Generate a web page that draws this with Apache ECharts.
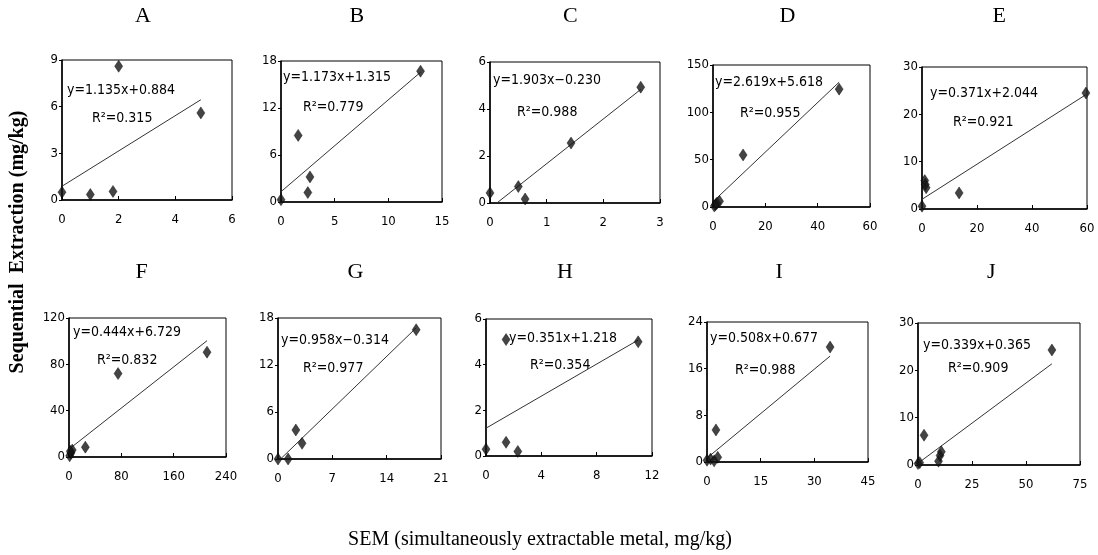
<!doctype html>
<html lang="en">
<head>
  <meta charset="utf-8">
  <title>SEM vs sequential extraction</title>
  <script src="https://cdn.jsdelivr.net/npm/echarts@6/dist/echarts.min.js"></script>
  <style>
    html, body { margin: 0; padding: 0; background: #fff; }
    #chart { width: 1098px; height: 555px; }
  </style>
</head>
<body>
  <div id="chart"></div>
  <script type="text/javascript">
    // panel letters
    const panels = ['A', 'B', 'C', 'D', 'E', 'F', 'G', 'H', 'I', 'J'];

    // SEM (x) and sequential extraction (y) values per panel
    const semA = [0, 1.0, 1.8, 2.0, 4.9];
    const seqA = [0.5, 0.35, 0.55, 8.6, 5.6];
    const semB = [0, 1.6, 2.7, 2.5, 13.0];
    const seqB = [0.3, 8.5, 3.2, 1.2, 16.7];
    const semC = [0, 0.5, 0.62, 1.43, 2.66];
    const seqC = [0.43, 0.7, 0.17, 2.55, 4.93];
    const semD = [0.5, 1.0, 1.5, 2.5, 11.5, 48.2];
    const seqD = [1, 2.5, 4, 6, 55, 124.5];
    const semE = [0, 1.0, 1.5, 1.2, 13.5, 59.6];
    const seqE = [0.6, 6.0, 4.5, 5.2, 3.4, 24.5];
    const semF = [1, 3, 5, 2, 25, 75, 211];
    const seqF = [1, 3.5, 6, 5, 8.5, 72, 90.5];
    const semG = [0, 1.3, 2.3, 3.1, 17.8];
    const seqG = [0, 0, 3.7, 2.0, 16.5];
    const semH = [0, 1.45, 1.45, 2.3, 11.0];
    const seqH = [0.3, 5.1, 0.6, 0.2, 5.0];
    const semI = [0, 1, 2, 3, 2.5, 34.4];
    const seqI = [0.3, 0.5, 0.2, 0.8, 5.5, 19.7];
    const semJ = [0, 0.8, 2.8, 9.5, 10.2, 10.8, 62];
    const seqJ = [0.3, 0.5, 6.3, 0.8, 2.0, 2.8, 24.3];

    // regression coefficients and the x span the fitted line covers
    const slopes = [1.135, 1.173, 1.903, 2.619, 0.371, 0.444, 0.958, 0.351, 0.508, 0.339];
    const intercepts = [0.884, 1.315, -0.230, 5.618, 2.044, 6.729, -0.314, 1.218, 0.677, 0.365];
    const lineFrom = [0, 0, 0.12, 0, 0, 0, 0.33, 0, 0, 0];
    const lineTo = [4.9, 13.0, 2.66, 48.2, 59.6, 211, 17.8, 11.0, 34.4, 62];
    const eqTexts = ['y=1.135x+0.884', 'y=1.173x+1.315', 'y=1.903x\u22120.230', 'y=2.619x+5.618', 'y=0.371x+2.044',
                     'y=0.444x+6.729', 'y=0.958x\u22120.314', 'y=0.351x+1.218', 'y=0.508x+0.677', 'y=0.339x+0.365'];
    const r2Texts = ['0.315', '0.779', '0.988', '0.955', '0.921', '0.832', '0.977', '0.354', '0.988', '0.909'];

    // axis ranges
    const xMax = [6, 15, 3, 60, 60, 240, 21, 12, 45, 75];
    const xStep = [2, 5, 1, 20, 20, 80, 7, 4, 15, 25];
    const yMax = [9, 18, 6, 150, 30, 120, 18, 6, 24, 30];
    const yStep = [3, 6, 2, 50, 10, 40, 6, 2, 8, 10];

    const semAll = [semA, semB, semC, semD, semE, semF, semG, semH, semI, semJ];
    const seqAll = [seqA, seqB, seqC, seqD, seqE, seqF, seqG, seqH, seqI, seqJ];

    // plot boxes: left, top, width, height
    const boxes = [
      [62, 60, 170, 140], [281, 61, 161, 141], [490, 62, 170, 141], [713, 65, 157, 142], [922, 67, 165, 142],
      [69, 318, 157, 139], [278, 318, 163, 141], [486, 319, 166, 137], [707, 322, 161, 140], [918, 323, 162, 142]
    ];
    // text anchors: equation (left, middle) and R2
    const eqPos = [[67, 90], [283, 77], [493, 80], [715, 82], [930, 93], [73, 332], [281, 340], [509, 338], [710, 338], [923, 345]];
    const r2Pos = [[92, 118], [303, 107], [517, 112], [740, 113], [953, 122], [97, 360], [303, 368], [530, 365], [735, 370], [948, 368]];

    const narrow = "'Liberation Sans Narrow', 'DejaVu Sans Condensed', 'Arial Narrow', sans-serif";
    const serif = "'Liberation Serif', 'DejaVu Serif', serif";

    const chart = echarts.init(document.getElementById('chart'));
    const grids = [], xAxes = [], yAxes = [], series = [], graphics = [];

    panels.forEach((p, i) => {
      const b = boxes[i];
      grids.push({
        left: b[0], top: b[1], width: b[2], height: b[3],
        show: true, borderColor: '#000', borderWidth: 1, backgroundColor: 'transparent'
      });
      xAxes.push({
        type: 'value', gridIndex: i, min: 0, max: xMax[i], interval: xStep[i],
        axisLine: { lineStyle: { color: '#000', width: 1.5 } },
        axisTick: { inside: true, length: 4, lineStyle: { color: '#000' } },
        axisLabel: { color: '#000', fontFamily: narrow, fontSize: 13, margin: 13 },
        splitLine: { show: false }
      });
      yAxes.push({
        type: 'value', gridIndex: i, min: 0, max: yMax[i], interval: yStep[i],
        axisLine: { show: true, lineStyle: { color: '#000', width: 1.5 } },
        axisTick: { show: true, length: 3, lineStyle: { color: '#000' } },
        axisLabel: { color: '#000', fontFamily: narrow, fontSize: 13, margin: 4 },
        splitLine: { show: false }
      });
      const lineData = [lineFrom[i], lineTo[i]].map(x => [x, slopes[i] * x + intercepts[i]]);
      series.push({
        type: 'line', xAxisIndex: i, yAxisIndex: i, data: lineData,
        showSymbol: false, silent: true,
        lineStyle: { color: '#333', width: 1 }, z: 2
      });
      series.push({
        type: 'scatter', xAxisIndex: i, yAxisIndex: i,
        data: semAll[i].map((x, k) => [x, seqAll[i][k]]),
        symbol: 'diamond', symbolSize: [8, 12],
        itemStyle: { color: '#151515', borderColor: '#000', borderWidth: 0.5 }, z: 3
      });

      // panel letter
      graphics.push({
        type: 'text', left: b[0] + b[2] / 2 - 12, top: i < 5 ? 5 : 261,
        style: { text: p, font: '22px ' + serif, fill: '#000' }
      });
      graphics.push({
        type: 'text', x: eqPos[i][0], y: eqPos[i][1],
        style: { text: eqTexts[i], font: '14px ' + narrow, fill: '#000', verticalAlign: 'middle' }
      });
      graphics.push({
        type: 'text', x: r2Pos[i][0], y: r2Pos[i][1],
        style: { text: 'R\u00b2=' + r2Texts[i], font: '14px ' + narrow, fill: '#000', verticalAlign: 'middle' }
      });
    });

    // shared axis titles
    graphics.push({
      type: 'text', x: 18, y: 242, rotation: Math.PI / 2,
      style: { text: 'Sequential  Extraction (mg/kg)', font: 'bold 20px ' + serif, fill: '#000',
               align: 'center', verticalAlign: 'middle' }
    });
    graphics.push({
      type: 'text', x: 540, y: 540,
      style: { text: 'SEM (simultaneously extractable metal, mg/kg)', font: '20px ' + serif, fill: '#000',
               align: 'center', verticalAlign: 'middle' }
    });

    chart.setOption({
      animation: false,
      backgroundColor: '#fff',
      grid: grids,
      xAxis: xAxes,
      yAxis: yAxes,
      series: series,
      graphic: graphics
    });
  </script>
</body>
</html>
